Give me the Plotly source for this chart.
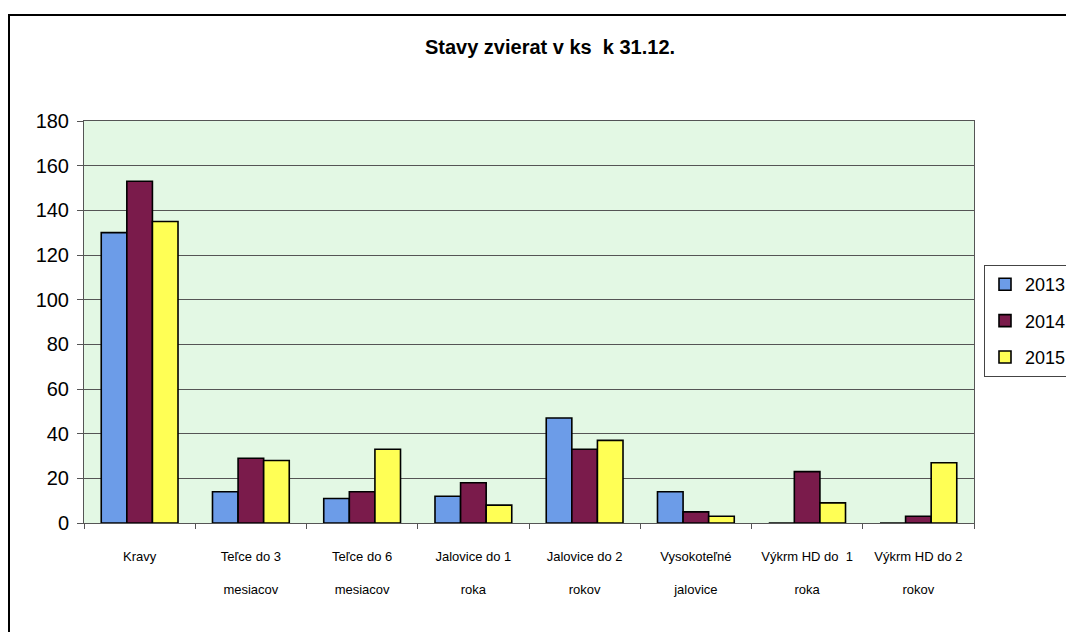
import plotly.graph_objects as go

categories = [
    "Kravy",
    "Teľce do 3<br><br>mesiacov",
    "Teľce do 6<br><br>mesiacov",
    "Jalovice do 1<br><br>roka",
    "Jalovice do 2<br><br>rokov",
    "Vysokoteľné<br><br>jalovice",
    "Výkrm HD do  1<br><br>roka",
    "Výkrm HD do 2<br><br>rokov",
]
years = ["2013", "2014", "2015"]
v2013 = [130, 14, 11, 12, 47, 14, 0, 0]
v2014 = [153, 29, 14, 18, 33, 5, 23, 3]
v2015 = [135, 28, 33, 8, 37, 3, 9, 27]
series = [v2013, v2014, v2015]
colors = ["#6C9CE8", "#7A1B4B", "#FFFF55"]

W, H = 1074, 632
OFF = 8  # page body margin
# plot area in page pixels
L, R, T, B = 84, 974, 121, 523
Lf, Rf, Tf, Bf = L - OFF, R - OFF, T - OFF, B - OFF

fig = go.Figure()
for i, (name, vals, col) in enumerate(zip(years, series, colors)):
    fig.add_trace(go.Bar(
        x=categories, y=vals, name=name, legendgroup=name,
        marker=dict(color=col, line=dict(color="#000000", width=1.6)),
    ))

def px_x(p):
    return (p - OFF - Lf) / (Rf - Lf)

def px_y(p):
    return (Bf - (p - OFF)) / (Bf - Tf)

fig.update_layout(
    width=W, height=H,
    margin=dict(l=Lf, r=W - Rf, t=Tf, b=H - Bf, autoexpand=False),
    paper_bgcolor="white",
    plot_bgcolor="#E3F8E4",
    barmode="group",
    bargap=0.31,
    bargroupgap=0,
    font=dict(family="Liberation Sans, Arial, sans-serif", color="#000"),
    title=dict(
        text="<b>Stavy zvierat v ks  k 31.12.</b>",
        x=(550 - OFF) / W, xanchor="center", y=1 - (47 - OFF) / H, yanchor="middle",
        font=dict(size=20, color="#000"),
    ),
    legend=dict(
        x=px_x(984), xanchor="left", y=px_y(265), yanchor="top",
        bordercolor="#444", borderwidth=1, bgcolor="white",
        font=dict(size=18, color="#000"),
        tracegroupgap=10, itemwidth=30,
    ),
    xaxis=dict(
        showgrid=False, showline=True, linecolor="#555", linewidth=1,
        ticks="outside", tickson="boundaries", ticklen=5, tickcolor="#555",
        tickfont=dict(size=13, color="#000"),
        ticklabelstandoff=21,
        mirror=True,
    ),
    yaxis=dict(
        range=[0, 180], dtick=20,
        showgrid=True, gridcolor="#555", gridwidth=1,
        showline=True, linecolor="#555", linewidth=1, mirror=True,
        ticks="outside", ticklen=6, tickcolor="#555",
        tickfont=dict(size=20, color="#000"),
        ticklabelstandoff=4,
        zeroline=False,
    ),
    shapes=[dict(
        type="rect", xref="paper", yref="paper",
        x0=px_x(9), x1=px_x(1100), y0=px_y(660), y1=px_y(15),
        line=dict(color="#000", width=2), fillcolor="rgba(0,0,0,0)",
        layer="below",
    )],
)

fig.write_html("out.html")
